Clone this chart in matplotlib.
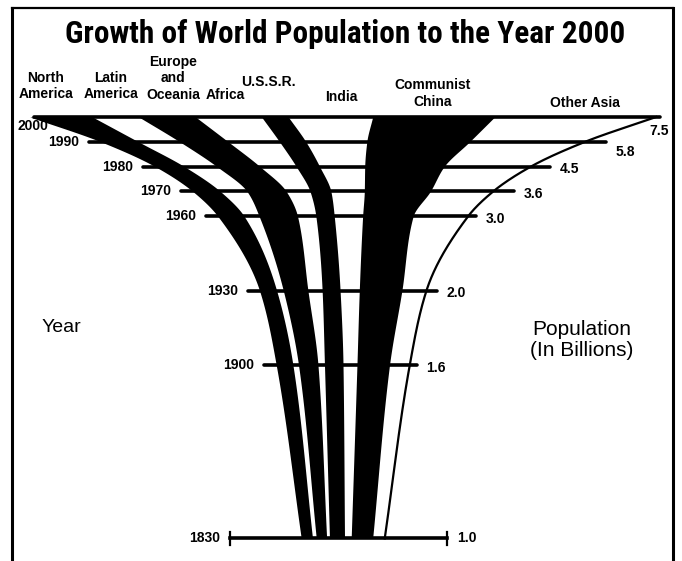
import os
import numpy as np
import matplotlib
matplotlib.use('Agg')
import matplotlib.pyplot as plt
from matplotlib.lines import Line2D
from matplotlib import font_manager as fm

# data: world population by region (billions)
years = [1830, 1900, 1930, 1960, 1970, 1980, 1990, 2000]
totals = [1.0, 1.6, 2.0, 3.0, 3.6, 4.5, 5.8, 7.5]
total_labels = ['1.0', '1.6', '2.0', '3.0', '3.6', '4.5', '5.8', '7.5']

regions = ['North\nAmerica', 'Latin\nAmerica', 'Europe\nand\nOceania', 'Africa',
           'U.S.S.R.', 'India', 'Communist\nChina', 'Other Asia']
north_america = [0.135, 0.20, 0.205, 0.315, 0.33, 0.35, 0.45, 0.75]
latin_america = [0.045, 0.067, 0.08, 0.18, 0.32, 0.39, 0.495, 0.555]
europe_oceania = [0.124, 0.233, 0.295, 0.46, 0.47, 0.515, 0.58, 0.68]
africa = [0.034, 0.078, 0.17, 0.22, 0.285, 0.435, 0.615, 0.79]
ussr = [0.18, 0.222, 0.215, 0.22, 0.25, 0.28, 0.315, 0.32]
india = [0.08, 0.167, 0.23, 0.34, 0.40, 0.54, 0.73, 1.01]
china = [0.257, 0.39, 0.51, 0.605, 0.79, 0.95, 1.23, 1.46]
other_asia = [0.145, 0.243, 0.295, 0.66, 0.755, 1.04, 1.385, 1.935]

series = [north_america, latin_america, europe_oceania, africa,
          ussr, india, china, other_asia]

# --- layout helpers (pixels -> data) ---
W, H = 682, 561
PX_PER_B = 83.5        # pixels per billion
CX = 343.0             # centre of the stack in pixels
Y2000, PX_PER_YR = 117.0, 2.479
pad_left = 12          # how far the year bars stick out past the stack (px)
pad_right = [0, 7, 10, 8, 21, 19, 21, 4]


def yr_at(px):
    return 2000 - (px - Y2000) / PX_PER_YR


def pchip(x, y, xn):
    x = np.asarray(x, float)
    y = np.asarray(y, float)
    h = np.diff(x)
    delta = np.diff(y) / h
    d = np.zeros_like(y)
    for k in range(1, len(x) - 1):
        if delta[k - 1] * delta[k] > 0:
            w1 = 2 * h[k] + h[k - 1]
            w2 = h[k] + 2 * h[k - 1]
            d[k] = (w1 + w2) / (w1 / delta[k - 1] + w2 / delta[k])
    d[0] = delta[0]
    d[-1] = delta[-1]
    idx = np.clip(np.searchsorted(x, xn) - 1, 0, len(x) - 2)
    t = (xn - x[idx]) / h[idx]
    h00 = 2 * t**3 - 3 * t**2 + 1
    h10 = t**3 - 2 * t**2 + t
    h01 = -2 * t**3 + 3 * t**2
    h11 = t**3 - t**2
    return h00 * y[idx] + h10 * h[idx] * d[idx] + h01 * y[idx + 1] + h11 * h[idx] * d[idx + 1]


def condensed_bold():
    # look for an installed narrow/condensed bold face for the title
    best = None
    for f in fm.fontManager.ttflist:
        base = os.path.basename(f.fname)
        narrow = ('Narrow' in f.name or 'Condensed' in f.name or 'Narrow' in base
                  or 'Condensed' in base or str(f.stretch) in ('condensed', 'semi-condensed'))
        w = f.weight if isinstance(f.weight, int) else fm.weight_dict.get(f.weight, 400)
        if narrow and 'Extra' not in base and 'Semi' not in base and w == 700:
            rank = 0 if 'Liberation' in f.name else 1 if 'Roboto' in f.name else 2
            if best is None or rank < best[0]:
                best = (rank, f.fname)
    if best:
        return fm.FontProperties(fname=best[1])
    return fm.FontProperties(family=['Liberation Sans', 'DejaVu Sans'], weight='bold')


fig = plt.figure(figsize=(W / 100, H / 100), dpi=100)
ax = fig.add_axes([0, 0, 1, 1])
ax.set_xlim(-CX / PX_PER_B, (W - CX) / PX_PER_B)
ax.set_ylim(yr_at(H), yr_at(0))
ax.axis('off')

# boundaries of the stacked bands, centred on zero
vals = np.array(series)
tot = np.array(totals)
bounds = np.vstack([-tot / 2, -tot / 2 + np.cumsum(vals, axis=0)])

yy = np.linspace(years[0], years[-1], 600)
curves = [pchip(years, b, yy) for b in bounds]

for i in range(0, 8, 2):
    ax.fill_betweenx(yy, curves[i], curves[i + 1], color='black', lw=0, zorder=2)
ax.plot(curves[-1], yy, color='black', lw=1.6, zorder=2)

# horizontal year bars
lab_font = dict(fontsize=10, fontweight='bold', family=['Liberation Sans', 'DejaVu Sans'])
right_dy = [0, -2, -2, -2, -2, -2, -7, 0]
for k, (yr, t, lab) in enumerate(zip(years, tot, total_labels)):
    if yr == 1830:
        x0, x1 = -1.35, 1.25
        ax.plot([x0, x1], [yr, yr], color='black', lw=2.6, zorder=3)
        for xe in (x0, x1):
            ax.plot([xe, xe], [yr - 2.6, yr + 2.6], color='black', lw=1.6, zorder=3)
    elif yr == 2000:
        x0, x1 = -t / 2 + 0.05, t / 2 + pad_right[k] / PX_PER_B
        ax.plot([x0, x1], [yr, yr], color='black', lw=2.6, zorder=3,
                solid_capstyle='round')
    else:
        x0, x1 = -t / 2 - pad_left / PX_PER_B, t / 2 + pad_right[k] / PX_PER_B
        ax.plot([x0, x1], [yr, yr], color='black', lw=2.6, zorder=3,
                solid_capstyle='round')

    if yr == 2000:
        ax.annotate(str(yr), (x0, yr), xytext=(10, -6.5), textcoords='offset points',
                    ha='right', va='center', **lab_font)
        ax.annotate(lab, (x1, yr), xytext=(-8, -10), textcoords='offset points',
                    ha='left', va='center', **lab_font)
    else:
        ax.annotate(str(yr), (x0, yr), xytext=(-7, 0), textcoords='offset points',
                    ha='right', va='center', **lab_font)
        ax.annotate(lab, (x1, yr), xytext=(7, right_dy[k]), textcoords='offset points',
                    ha='left', va='center', **lab_font)

# region names along the top
name_x = [46, 111, 173, 225, 268, 341, 433, 585]
name_y = [86, 86, 78.5, 95, 82, 97, 93.5, 103]
for name, nx, ny in zip(regions, name_x, name_y):
    fig.text(nx / W, 1 - ny / H, name, ha='center', va='center', linespacing=1.25,
             **lab_font)

title = fig.text(345 / W, 1 - 34 / H, 'Growth of World Population to the Year 2000',
                 ha='center', va='center', fontproperties=condensed_bold(), fontsize=23)
# fit the title to the width it has in the original (about 560 px)
fig.canvas.draw()
tw = title.get_window_extent().width
title.set_fontsize(min(23 * 560 / tw, 26))

fig.text(61 / W, 1 - 327 / H, 'Year', ha='center', va='center', fontsize=14,
         family=['Liberation Sans', 'DejaVu Sans'])
fig.text(582 / W, 1 - 340 / H, 'Population\n(In Billions)', ha='center', va='center',
         fontsize=15, linespacing=1.15, family=['Liberation Sans', 'DejaVu Sans'])

# frame around the chart (open at the bottom)
fl, fr, ft = 12 / W, 673 / W, 1 - 8 / H
fig.add_artist(Line2D([fl, fl], [0, ft], color='black', lw=2.2))
fig.add_artist(Line2D([fr, fr], [0, ft], color='black', lw=2.2))
fig.add_artist(Line2D([fl, fr], [ft, ft], color='black', lw=1.6))

fig.savefig('out.png', dpi=100, facecolor='white')
